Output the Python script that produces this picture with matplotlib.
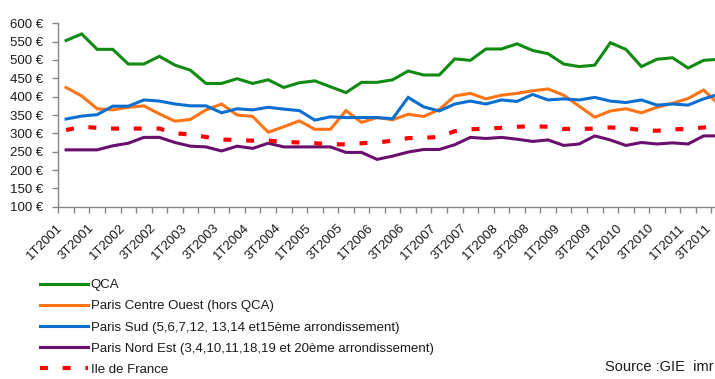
import numpy as np
import matplotlib
matplotlib.use("Agg")
import matplotlib.pyplot as plt
from matplotlib.transforms import ScaledTranslation

plt.rcParams['font.family'] = ['Liberation Sans', 'DejaVu Sans']

# Quarters 1T2001 .. 3T2011
quarters = [f"{q}T{y}" for y in range(2001, 2012) for q in range(1, 5)][:43]

qca = [553, 571, 529, 529, 489, 489, 510, 486, 472, 436, 436, 449, 436, 446,
       425, 438, 443, 427, 411, 439, 439, 446, 470, 459, 459, 503, 499, 530,
       530, 544, 526, 517, 489, 482, 486, 547, 529, 482, 502, 506, 478, 499, 502]

centre_ouest = [425, 402, 367, 364, 371, 375, 353, 333, 338, 364, 380, 350, 346,
                303, 318, 334, 311, 311, 362, 330, 343, 337, 352, 346, 365, 402,
                409, 394, 404, 409, 416, 421, 404, 374, 344, 361, 367, 356, 371,
                382, 395, 418, 378]

sud = [339, 347, 351, 374, 374, 391, 388, 380, 375, 375, 356, 367, 364, 371,
       366, 362, 336, 345, 343, 343, 343, 340, 398, 372, 361, 380, 388, 380,
       391, 387, 406, 391, 394, 391, 398, 388, 384, 391, 377, 380, 377, 394, 407]

nord_est = [255, 255, 255, 266, 273, 289, 289, 275, 265, 263, 252, 265, 259, 273,
            263, 263, 263, 263, 248, 248, 229, 238, 249, 256, 256, 269, 289, 286,
            289, 284, 278, 282, 267, 271, 293, 282, 267, 275, 271, 274, 271, 293, 293]

idf = [309, 318, 315, 313, 313, 313, 313, 300, 297, 290, 283, 282, 280, 280,
       277, 275, 273, 270, 270, 273, 275, 280, 287, 288, 290, 306, 311, 313,
       315, 318, 319, 318, 312, 312, 313, 316, 314, 309, 307, 311, 312, 316, 320]

labels = ["QCA",
          "Paris Centre Ouest (hors QCA)",
          "Paris Sud (5,6,7,12, 13,14 et15ème arrondissement)",
          "Paris Nord Est (3,4,10,11,18,19 et 20ème arrondissement)",
          "Ile de France"]
colors = ["#0f8a12", "#ff7417", "#0b6fd0", "#6a0f6e", "#ff0000"]

W, H = 715, 379
fig = plt.figure(figsize=(W / 100, H / 100), dpi=100)

left_px, top_px, bottom_px = 58.3, 23.3, 206.7
step_px = 15.55
n = len(quarters)
ax = fig.add_axes([left_px / W, 1 - bottom_px / H,
                   n * step_px / W, (bottom_px - top_px) / H])

x = np.arange(n)
lw = 2.2
series = [qca, centre_ouest, sud, nord_est]
handles = []
for vals, col, lab in zip(series, colors[:4], labels[:4]):
    h, = ax.plot(x, vals, color=col, lw=lw, solid_joinstyle='miter', label=lab)
    handles.append(h)
h, = ax.plot(x, idf, color=colors[4], lw=3.0, dashes=(1.9, 3.55),
             dash_capstyle='butt', label=labels[4])
handles.append(h)

ax.set_xlim(-0.5, n - 0.5)
ax.set_ylim(100, 600)

axis_col = "#868686"
text_col = "#1a1a1a"
for side in ("top", "right"):
    ax.spines[side].set_visible(False)
for side in ("left", "bottom"):
    ax.spines[side].set_color(axis_col)
    ax.spines[side].set_linewidth(1.0)

yt = np.arange(100, 601, 50)
ax.set_yticks(yt)
ax.set_yticklabels([f"{v} €" for v in yt], fontsize=9.5, color=text_col)
ax.tick_params(axis='y', length=4, width=1, color=axis_col, pad=7)

# tick marks between categories, labels every second quarter
ax.set_xticks(np.arange(-0.5, n, 1.0))
ax.set_xticklabels([])
ax.tick_params(axis='x', which='major', length=4, width=1, color=axis_col)
ax.set_xticks(x[::2], minor=True)
ax.set_xticklabels(quarters[::2], minor=True, rotation=45, ha='right',
                   va='top', rotation_mode='anchor', fontsize=9.5, color=text_col)
ax.tick_params(axis='x', which='minor', length=0, pad=11)
tick_texts = ax.get_xticklabels(minor=True)
for i, t in enumerate(tick_texts):
    # the last label sits at the right border, nudge it inside the canvas
    dx = -6.6 if i < len(tick_texts) - 1 else -9.8
    t.set_transform(t.get_transform()
                    + ScaledTranslation(dx / 72, 0, fig.dpi_scale_trans))

fig.legend(handles=handles, labels=labels, loc='upper left',
           bbox_to_anchor=(40 / W, 1 - 279 / H), frameon=False,
           fontsize=9.5, handlelength=3.6, handletextpad=0.25,
           labelspacing=0.68, borderpad=0, borderaxespad=0,
           labelcolor=text_col)

fig.text(0.998, 1 - 367 / H, "Source :GIE  imr", ha='right', va='center',
         fontsize=10.5, color=text_col)

fig.savefig("out.png", dpi=100)
